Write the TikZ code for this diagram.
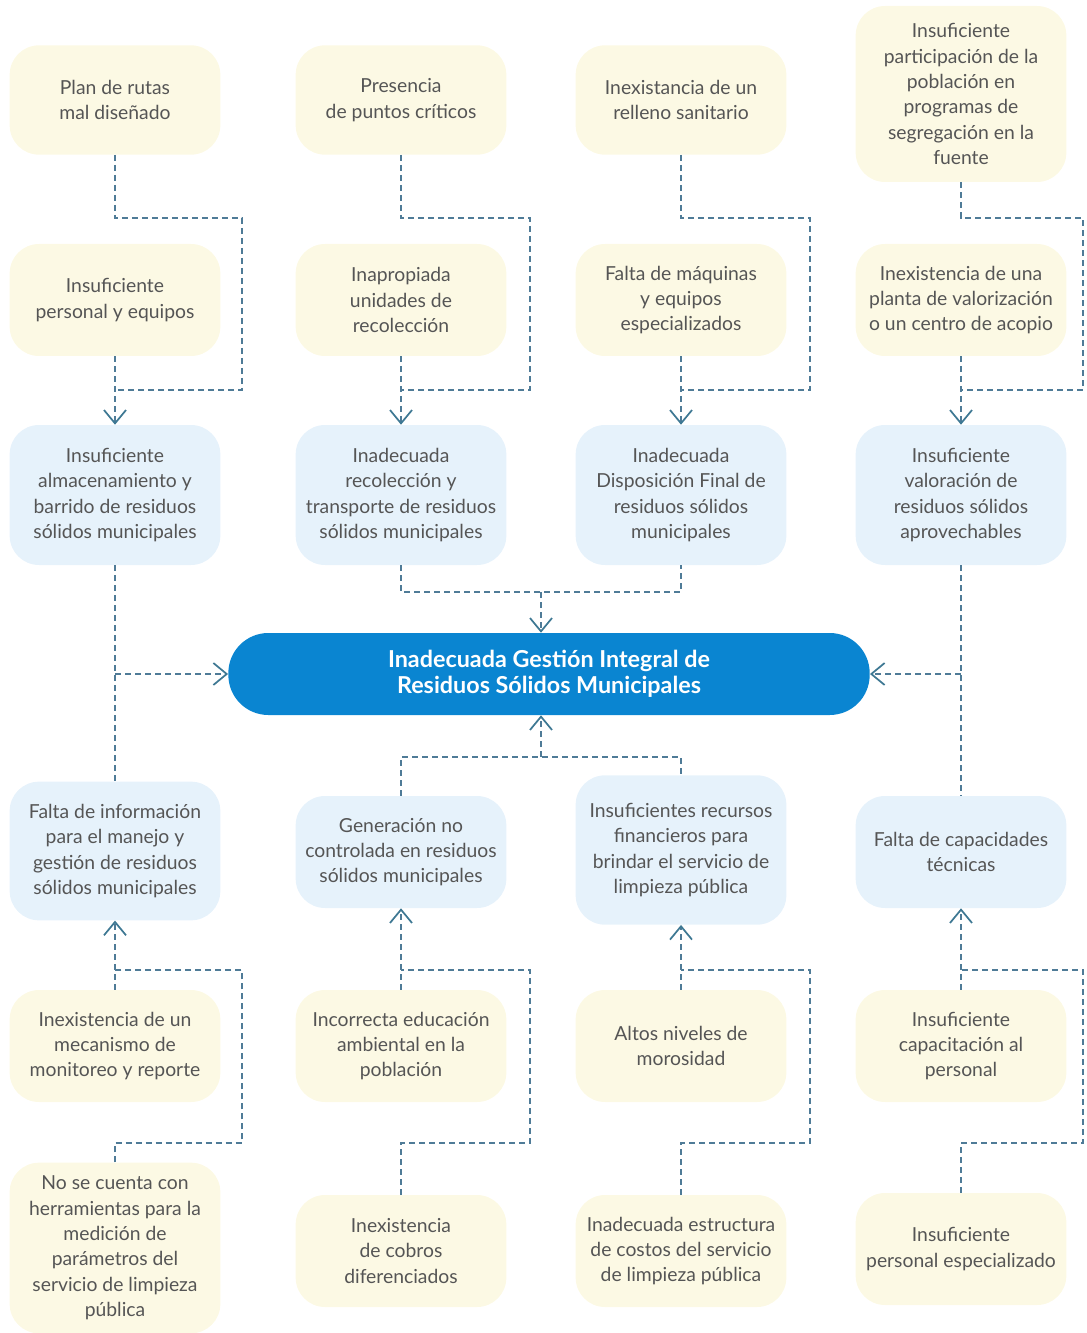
\documentclass[tikz,border=0pt]{standalone}
\usepackage{fontspec}
\setmainfont{Lato}
\usetikzlibrary{arrows.meta}
\definecolor{cream}{HTML}{FCF9E4}
\definecolor{pale}{HTML}{E6F2FB}
\definecolor{mainblue}{HTML}{0A85D1}
\definecolor{txt}{HTML}{555555}
\definecolor{dashc}{HTML}{4F7B97}
\definecolor{tipc}{HTML}{3E7893}
\begin{document}
\begin{tikzpicture}[x=0.75pt,y=-0.75pt,
 box/.style={rounded corners=22pt, minimum width=158pt, align=center, text=txt,
   font=\fontsize{14.5}{19}\selectfont, inner sep=0pt},
 ybox/.style={box, fill=cream},
 bbox/.style={box, fill=pale},
 link/.style={draw=dashc, line width=1.1pt, dash pattern=on 4.5pt off 3pt},
 tip/.style={-{Straight Barb[length=10pt,width=16.5pt,line width=1.3pt,color=tipc]}},
]
\useasboundingbox (0,0) rectangle (1087,1333);
% row 1
\node[ybox, minimum height=82pt] (t1c1) at (115,100) {Plan de rutas\\mal diseñado};
\node[ybox, minimum height=82pt] (t1c2) at (401,100) {Presencia\\de puntos críticos};
\node[ybox, minimum height=82pt] (t1c3) at (681,100) {Inexistancia de un\\relleno sanitario};
\node[ybox, minimum height=132pt] (t1c4) at (961,94) {Insuficiente\\participación de la\\población en\\programas de\\segregación en la\\fuente};
% row 2
\node[ybox, minimum height=84pt] (t2c1) at (115,300) {Insuficiente\\personal y equipos};
\node[ybox, minimum height=84pt] (t2c2) at (401,300) {Inapropiada\\unidades de\\recolección};
\node[ybox, minimum height=84pt] (t2c3) at (681,300) {Falta de máquinas\\y equipos\\especializados};
\node[ybox, minimum height=84pt] (t2c4) at (961,300) {Inexistencia de una\\planta de valorización\\o un centro de acopio};
% row 3
\node[bbox, minimum height=105pt] (t3c1) at (115,495) {Insuficiente\\almacenamiento y\\barrido de residuos\\sólidos municipales};
\node[bbox, minimum height=105pt] (t3c2) at (401,495) {Inadecuada\\recolección y\\transporte de residuos\\sólidos municipales};
\node[bbox, minimum height=105pt] (t3c3) at (681,495) {Inadecuada\\Disposición Final de\\residuos sólidos\\municipales};
\node[bbox, minimum height=105pt] (t3c4) at (961,495) {Insuficiente\\valoración de\\residuos sólidos\\aprovechables};
% center
\node[fill=mainblue, rounded corners=30pt, minimum width=481pt, minimum height=61.5pt,
  align=center, text=white, font=\bfseries\fontsize{17.5}{19.5}\selectfont, inner sep=0pt]
  (center) at (549,674) {Inadecuada Gestión Integral de\\Residuos Sólidos Municipales};
% row 4
\node[bbox, minimum height=104pt] (t4c1) at (115,851) {Falta de información\\para el manejo y\\gestión de residuos\\sólidos municipales};
\node[bbox, minimum height=84pt] (t4c2) at (401,852) {Generación no\\controlada en residuos\\sólidos municipales};
\node[bbox, minimum height=112pt] (t4c3) at (681,850) {Insuficientes recursos\\financieros para\\brindar el servicio de\\limpieza pública};
\node[bbox, minimum height=84pt] (t4c4) at (961,852) {Falta de capacidades\\técnicas};
% row 5
\node[ybox, minimum height=84pt] (t5c1) at (115,1046) {Inexistencia de un\\mecanismo de\\monitoreo y reporte};
\node[ybox, minimum height=84pt] (t5c2) at (401,1046) {Incorrecta educación\\ambiental en la\\población};
\node[ybox, minimum height=84pt] (t5c3) at (681,1046) {Altos niveles de\\morosidad};
\node[ybox, minimum height=84pt] (t5c4) at (961,1046) {Insuficiente\\capacitación al\\personal};
% row 6
\node[ybox, minimum height=128pt] (t6c1) at (115,1248) {No se cuenta con\\herramientas para la\\medición de\\parámetros del\\servicio de limpieza\\pública};
\node[ybox, minimum height=84pt] (t6c2) at (401,1251) {Inexistencia\\de cobros\\diferenciados};
\node[ybox, minimum height=84pt] (t6c3) at (681,1251) {Inadecuada estructura\\de costos del servicio\\de limpieza pública};
\node[ybox, minimum height=84pt] (t6c4) at (961,1249) {Insuficiente\\personal especializado};
% upper connectors
\draw[link] (t1c1.south) |- (242,218) |- (t2c1.south |- 0,390);
\draw[link] (t1c2.south) |- (530,218) |- (t2c2.south |- 0,390);
\draw[link] (t1c3.south) |- (810,218) |- (t2c3.south |- 0,390);
\draw[link] (t1c4.south) |- (1083,218) |- (t2c4.south |- 0,390);
\draw[link,tip] (t2c1.south) -- (t3c1.north);
\draw[link,tip] (t2c2.south) -- (t3c2.north);
\draw[link,tip] (t2c3.south) -- (t3c3.north);
\draw[link,tip] (t2c4.south) -- (t3c4.north);
% to center
\draw[link] (t3c1.south) -- (t4c1.north);
\draw[link,tip] (t3c1.south |- center.west) -- (center.west);
\draw[link] (t3c4.south) -- (t4c4.north);
\draw[link,tip] (t3c4.south |- center.east) -- (center.east);
\coordinate (m1) at (541,592);
\coordinate (m2) at (541,757);
\draw[link] (t3c2.south) |- (t3c3.south |- m1) -- (t3c3.south);
\draw[link,tip] (m1) -- (m1 |- center.north);
\draw[link] (t4c2.north) |- (t4c3.north |- m2) -- (t4c3.north);
\draw[link,tip] (m2) -- (m2 |- center.south);
% lower connectors
\draw[link,tip] (t5c1.north) -- (t4c1.south);
\draw[link,tip] (t5c2.north) -- (t4c2.south);
\draw[link,tip] (t5c3.north) -- (t4c3.south);
\draw[link,tip] (t5c4.north) -- (t4c4.south);
\draw[link] (t6c1.north) |- (242,1143) |- (t5c1.north |- 0,970);
\draw[link] (t6c2.north) |- (530,1143) |- (t5c2.north |- 0,970);
\draw[link] (t6c3.north) |- (810,1143) |- (t5c3.north |- 0,970);
\draw[link] (t6c4.north) |- (1083,1143) |- (t5c4.north |- 0,970);
\end{tikzpicture}
\end{document}
